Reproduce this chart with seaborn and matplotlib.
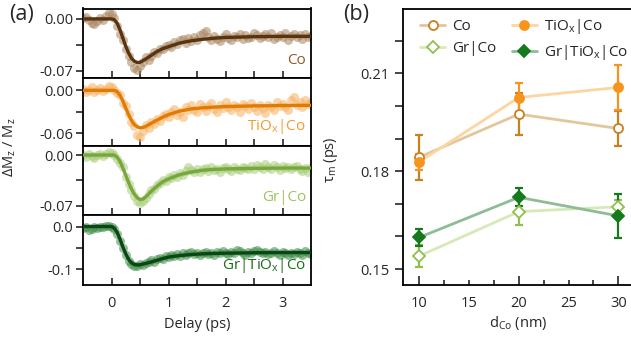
import numpy as np
import pandas as pd
import matplotlib
matplotlib.use("Agg")
import matplotlib.pyplot as plt
from matplotlib.lines import Line2D
import seaborn as sns

# ---------------- data: panel (a) ----------------
delay = [-0.50, -0.45, -0.40, -0.35, -0.30, -0.25, -0.20, -0.15, -0.10, -0.05,
         0.00, 0.05, 0.10, 0.15, 0.20, 0.25, 0.30, 0.35, 0.40, 0.45,
         0.50, 0.55, 0.60, 0.65, 0.70, 0.75, 0.80, 0.85, 0.90, 0.95,
         1.00, 1.05, 1.10, 1.15, 1.20, 1.25, 1.30, 1.35, 1.40, 1.45,
         1.50, 1.55, 1.60, 1.65, 1.70, 1.75, 1.80, 1.85, 1.90, 1.95,
         2.00, 2.05, 2.10, 2.15, 2.20, 2.25, 2.30, 2.35, 2.40, 2.45,
         2.50, 2.55, 2.60, 2.65, 2.70, 2.75, 2.80, 2.85, 2.90, 2.95,
         3.00, 3.05, 3.10, 3.15, 3.20, 3.25, 3.30, 3.35, 3.40, 3.45, 3.50]

co_data = [0.001, 0.003, -0.002, -0.006, -0.007, -0.003, 0.001, -0.001, 0.004, 0.008,
           0.006, 0.001, -0.010, -0.020, -0.028, -0.040, -0.050, -0.058, -0.066, -0.069,
           -0.063, -0.058, -0.052, -0.055, -0.050, -0.044, -0.046, -0.040, -0.041, -0.036,
           -0.035, -0.038, -0.031, -0.034, -0.029, -0.027, -0.032, -0.026, -0.030, -0.024,
           -0.028, -0.022, -0.019, -0.017, -0.025, -0.029, -0.023, -0.027, -0.030, -0.024,
           -0.021, -0.026, -0.028, -0.023, -0.025, -0.020, -0.027, -0.022, -0.026, -0.024,
           -0.019, -0.022, -0.026, -0.023, -0.021, -0.025, -0.019, -0.027, -0.024, -0.022,
           -0.025, -0.019, -0.028, -0.023, -0.020, -0.025, -0.022, -0.027, -0.021, -0.024, -0.023]

tio_data = [0.002, -0.003, 0.001, 0.004, -0.002, 0.000, 0.003, -0.001, 0.002, 0.006,
            0.005, 0.001, -0.004, -0.006, -0.018, -0.022, -0.033, -0.045, -0.050, -0.062,
            -0.066, -0.057, -0.049, -0.053, -0.044, -0.047, -0.040, -0.043, -0.036, -0.033,
            -0.038, -0.030, -0.026, -0.035, -0.031, -0.038, -0.024, -0.028, -0.021, -0.027,
            -0.030, -0.019, -0.024, -0.029, -0.022, -0.018, -0.026, -0.031, -0.021, -0.025,
            -0.017, -0.023, -0.028, -0.020, -0.024, -0.030, -0.019, -0.022, -0.026, -0.018,
            -0.024, -0.029, -0.021, -0.025, -0.032, -0.020, -0.023, -0.027, -0.017, -0.022,
            -0.019, -0.024, -0.028, -0.014, -0.009, -0.020, -0.016, -0.024, -0.013, -0.019, -0.017]

grco_data = [0.000, -0.003, 0.001, -0.002, -0.004, 0.000, 0.002, -0.001, 0.001, 0.004,
             0.003, 0.000, -0.005, -0.011, -0.016, -0.030, -0.040, -0.049, -0.057, -0.063,
             -0.066, -0.064, -0.060, -0.054, -0.049, -0.047, -0.041, -0.039, -0.035, -0.036,
             -0.031, -0.032, -0.028, -0.030, -0.025, -0.027, -0.022, -0.017, -0.021, -0.024,
             -0.019, -0.023, -0.020, -0.018, -0.022, -0.017, -0.021, -0.019, -0.023, -0.018,
             -0.016, -0.020, -0.022, -0.017, -0.019, -0.021, -0.016, -0.018, -0.020, -0.015,
             -0.019, -0.014, -0.017, -0.020, -0.013, -0.016, -0.019, -0.014, -0.017, -0.021,
             -0.015, -0.018, -0.016, -0.020, -0.017, -0.015, -0.019, -0.022, -0.018, -0.024, -0.017]

grtio_data = [-0.004, -0.002, -0.008, -0.005, -0.001, -0.003, 0.000, -0.002, 0.001, 0.002,
              -0.001, -0.006, -0.018, -0.034, -0.050, -0.066, -0.080, -0.088, -0.093, -0.092,
              -0.088, -0.090, -0.085, -0.082, -0.079, -0.083, -0.076, -0.073, -0.075, -0.069,
              -0.072, -0.066, -0.070, -0.064, -0.068, -0.062, -0.066, -0.063, -0.060, -0.065,
              -0.061, -0.067, -0.062, -0.059, -0.064, -0.061, -0.066, -0.060, -0.063, -0.058,
              -0.062, -0.065, -0.059, -0.063, -0.055, -0.058, -0.062, -0.066, -0.060, -0.063,
              -0.057, -0.054, -0.059, -0.063, -0.060, -0.065, -0.061, -0.058, -0.062, -0.066,
              -0.060, -0.063, -0.067, -0.061, -0.064, -0.059, -0.062, -0.066, -0.058, -0.061, -0.064]

fit_delay = [-0.5, 0.0, 0.05, 0.1, 0.15, 0.2, 0.25, 0.3, 0.35, 0.4, 0.45, 0.5, 0.55,
             0.6, 0.7, 0.8, 0.9, 1.0, 1.2, 1.4, 1.6, 1.8, 2.0, 2.5, 3.0, 3.5]
co_fit = [0, 0, -0.001, -0.006, -0.015, -0.026, -0.037, -0.046, -0.053, -0.057, -0.0588,
          -0.0585, -0.0565, -0.054, -0.049, -0.044, -0.040, -0.0375, -0.0325, -0.0295,
          -0.0275, -0.026, -0.025, -0.024, -0.0235, -0.0235]
tio_fit = [0, 0, 0, -0.002, -0.007, -0.015, -0.025, -0.034, -0.042, -0.048, -0.051,
           -0.0525, -0.052, -0.0505, -0.046, -0.0415, -0.0375, -0.034, -0.029, -0.026,
           -0.0245, -0.0235, -0.0227, -0.0218, -0.0213, -0.021]
grco_fit = [0, 0, 0, -0.003, -0.009, -0.018, -0.028, -0.038, -0.047, -0.054, -0.059,
            -0.0615, -0.061, -0.058, -0.050, -0.043, -0.037, -0.033, -0.027, -0.0235,
            -0.021, -0.0198, -0.0192, -0.0185, -0.018, -0.018]
grtio_fit = [0, 0, -0.004, -0.014, -0.030, -0.048, -0.064, -0.077, -0.085, -0.089, -0.090,
             -0.0895, -0.088, -0.0865, -0.083, -0.079, -0.075, -0.0715, -0.068, -0.0655,
             -0.064, -0.063, -0.0625, -0.0615, -0.061, -0.061]

# ---------------- data: panel (b) ----------------
d_co = [10, 20, 30]
tau_co = [0.1843, 0.1975, 0.1931]
err_co = [0.0069, 0.0065, 0.0055]
tau_tio = [0.1829, 0.2026, 0.2057]
err_tio = [0.0025, 0.0045, 0.0069]
tau_grco = [0.1540, 0.1676, 0.1691]
err_grco = [0.0033, 0.0040, 0.0020]
tau_grtio = [0.1597, 0.1720, 0.1663]
err_grtio = [0.0026, 0.0027, 0.0068]

labels = ["Co", r"TiO$_\mathregular{x}$|Co", r"Gr|Co", r"Gr|TiO$_\mathregular{x}$|Co"]

# ---------------- style ----------------
sns.set_theme(style="ticks")
plt.rcParams["font.family"] = ["Open Sans", "DejaVu Sans"]
plt.rcParams["mathtext.fontset"] = "custom"
plt.rcParams["mathtext.rm"] = "Open Sans"
plt.rcParams["mathtext.it"] = "Open Sans:italic"
plt.rcParams["axes.linewidth"] = 1.3
plt.rcParams["axes.edgecolor"] = "black"

FS = 10.5
fig = plt.figure(figsize=(6.31, 3.41), dpi=100)
W, H = 631.0, 341.0

def fx(px):
    return px / W

def fy(py):
    return 1 - py / H

# panel (a)
bounds = [8.5, 77.5, 146.0, 215.0, 285.0]
ylims = [(-0.079, 0.014), (-0.078, 0.018), (-0.083, 0.0125), (-0.137, 0.027)]
yt = [([0.0, -0.07], ["0.00", "-0.07"], [-0.035]),
      ([0.0, -0.06], ["0.00", "-0.06"], [-0.03]),
      ([0.0, -0.07], ["0.00", "-0.07"], [-0.035]),
      ([0.0, -0.1], ["0.0", "-0.1"], [-0.05])]
datas = [co_data, tio_data, grco_data, grtio_data]
fits = [co_fit, tio_fit, grco_fit, grtio_fit]
pt_colors = ["#a98660", "#f7b262", "#a9cc7c", "#3f8c48"]
ln_colors = ["#5a3410", "#e07c06", "#78a73c", "#0b4714"]
tx_colors = ["#8c5a28", "#f59a2c", "#9cc45e", "#1a6e1a"]
txt_y = [0.25, 0.28, 0.26, 0.28]

x0, x1 = 83.0, 311.0
for i in range(4):
    top, bot = bounds[i], bounds[i + 1]
    ax = fig.add_axes([fx(x0), fy(bot), fx(x1) - fx(x0), (bot - top) / H])
    df = pd.DataFrame({"t": delay, "v": datas[i]})
    sns.scatterplot(data=df, x="t", y="v", ax=ax, color=pt_colors[i], s=42,
                    alpha=0.55, linewidth=0, zorder=2)
    dff = pd.DataFrame({"t": fit_delay, "v": fits[i]})
    sns.lineplot(data=dff, x="t", y="v", ax=ax, color=ln_colors[i], lw=2.4,
                 zorder=3, estimator=None)
    ax.set_xlim(-0.5, 3.5)
    ax.set_ylim(*ylims[i])
    ax.set_xlabel("")
    ax.set_ylabel("")
    for s in ax.spines.values():
        s.set_visible(True)
        s.set_linewidth(1.3)
    ax.set_xticks([0, 1, 2, 3])
    ax.set_xticks([0.5, 1.5, 2.5], minor=True)
    ax.set_yticks(yt[i][0], labels=yt[i][1])
    ax.set_yticks(yt[i][2], minor=True)
    ax.tick_params(axis="x", which="both", direction="in", length=5, width=1.2,
                   top=False, bottom=True, labelsize=FS, pad=8)
    ax.tick_params(axis="y", which="both", direction="out", length=5, width=1.2,
                   right=False, labelsize=FS, pad=2)
    if i < 3:
        ax.tick_params(axis="x", labelbottom=False)
    ax.text(0.978, txt_y[i], labels[i], transform=ax.transAxes, ha="right",
            va="center", color=tx_colors[i], fontsize=11)

fig.text(fx(197), fy(325), "Delay (ps)", ha="center", va="center", fontsize=FS)
fig.text(fx(10), fy(147), r"ΔM$_\mathregular{z}$ / M$_\mathregular{z}$", rotation=90,
         ha="center", va="center", fontsize=FS)
fig.text(fx(21.5), fy(14.5), "(a)", ha="center", va="center", fontsize=15.5)
fig.text(fx(356), fy(14.5), "(b)", ha="center", va="center", fontsize=15.5)

# panel (b)
bx0, bx1 = 403.0, 633.0
axb = fig.add_axes([fx(bx0), fy(285), (bx1 - bx0) / W, (285 - 8.5) / H])
for s in axb.spines.values():
    s.set_visible(True)
    s.set_linewidth(1.3)
axb.set_xlim(8.36, 31.48)
axb.set_ylim(0.1451, 0.2299)

series = [
    (tau_co, err_co, "#e2c69c", "#c98020", "o", True),
    (tau_tio, err_tio, "#fdd5a0", "#f7941d", "o", False),
    (tau_grco, err_grco, "#d7e9b8", "#8fbf4c", "D", True),
    (tau_grtio, err_grtio, "#8fbc96", "#157a1d", "D", False),
]
handles = []
for k, (vals, errs, lc, mc, mk, hollow) in enumerate(series):
    dfb = pd.DataFrame({"d": d_co, "tau": vals})
    sns.lineplot(data=dfb, x="d", y="tau", ax=axb, color=lc, lw=2.0, zorder=2,
                 estimator=None)
    axb.errorbar(d_co, vals, yerr=errs, fmt="none", ecolor=mc, elinewidth=1.6,
                 capsize=3, capthick=1.6, zorder=3)
    ms = 6.5 if mk == "o" else 6.0
    axb.plot(d_co, vals, ls="none", marker=mk, ms=ms, mec=mc,
             mfc="white" if hollow else mc, mew=1.3, zorder=4)
    handles.append(Line2D([], [], color=lc, lw=2.0, marker=mk, ms=ms, mec=mc,
                          mfc="white" if hollow else mc, mew=1.3))
axb.set_xlabel("")
axb.set_ylabel("")
axb.set_xticks([10, 20, 30])
axb.set_xticks([12.5, 15, 17.5, 22.5, 25, 27.5], labels=["", "15", "", "", "25", ""],
               minor=True)
axb.set_yticks([0.15, 0.18, 0.21], labels=["0.15", "0.18", "0.21"])
axb.set_yticks([0.16, 0.17, 0.19, 0.20, 0.22], minor=True)
axb.tick_params(axis="x", which="major", direction="in", length=6.5, width=1.2,
                labelsize=FS, pad=8, top=False)
axb.tick_params(axis="x", which="minor", direction="in", length=3.5, width=1.2,
                labelsize=FS, pad=8, top=False)
axb.tick_params(axis="y", which="both", direction="out", length=5.5, width=1.2,
                labelsize=FS, pad=4, right=False)

order = [0, 2, 1, 3]
axb.legend([handles[j] for j in order], [labels[j] for j in order], ncol=2,
           loc="upper left", bbox_to_anchor=((420 - bx0) / (bx1 - bx0), 0.968),
           frameon=False, fontsize=11, handlelength=1.65, handletextpad=0.45,
           columnspacing=1.0, labelspacing=0.45, borderpad=0, borderaxespad=0)

fig.text(fx(518), fy(323), r"d$_\mathregular{Co}$ (nm)", ha="center", va="center",
         fontsize=FS)
fig.text(fx(331), fy(160), r"τ$_\mathregular{m}$ (ps)", rotation=90, ha="center",
         va="center", fontsize=FS)

fig.savefig("out.png", dpi=100)
